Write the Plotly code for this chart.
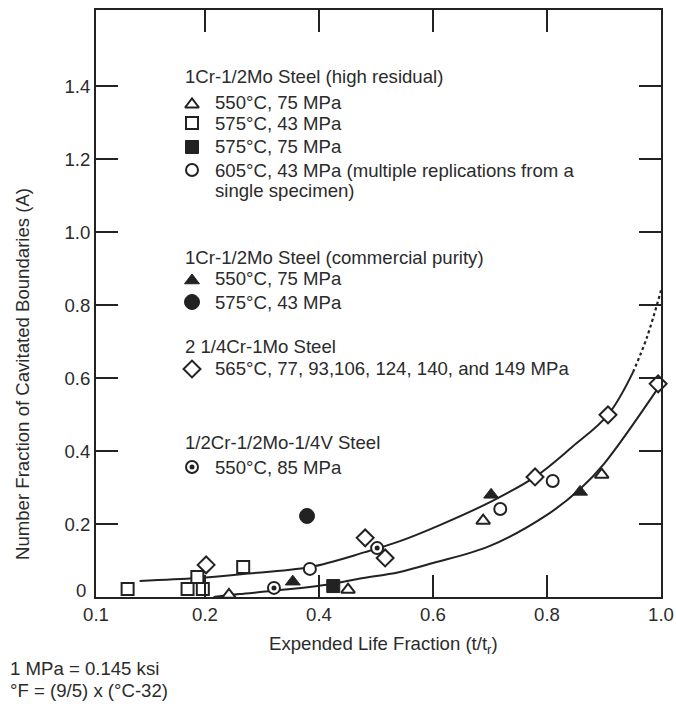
import plotly.graph_objects as go

# ---------------- data ----------------
# 1Cr-1/2Mo Steel (high residual)
tri_open_x = [0.242, 0.451, 0.688, 0.896]
tri_open_y = [0.006, 0.020, 0.209, 0.335]
sq_open_x = [0.129, 0.184, 0.193, 0.198, 0.267]
sq_open_y = [0.022, 0.022, 0.055, 0.022, 0.082]
sq_fill_x = [0.425]
sq_fill_y = [0.030]
circ_open_x = [0.384, 0.718, 0.810]
circ_open_y = [0.077, 0.241, 0.318]
# 1Cr-1/2Mo Steel (commercial purity)
tri_fill_x = [0.354, 0.702, 0.858]
tri_fill_y = [0.042, 0.280, 0.288]
circ_fill_x = [0.379]
circ_fill_y = [0.222]
# 2 1/4Cr-1Mo Steel
dia_x = [0.202, 0.481, 0.516, 0.779, 0.907, 0.995]
dia_y = [0.088, 0.162, 0.107, 0.329, 0.499, 0.584]
# 1/2Cr-1/2Mo-1/4V Steel
dot_x = [0.321, 0.502]
dot_y = [0.025, 0.134]

# trend curves
upper_x = [0.140, 0.193, 0.267, 0.384, 0.481, 0.542, 0.612, 0.700, 0.779, 0.844, 0.907, 0.951]
upper_y = [0.044, 0.052, 0.063, 0.082, 0.123, 0.153, 0.197, 0.260, 0.329, 0.411, 0.499, 0.616]
upper_ext_x = [0.951, 0.975, 1.000]
upper_ext_y = [0.616, 0.710, 0.840]
lower_x = [0.215, 0.260, 0.320, 0.420, 0.470, 0.540, 0.600, 0.700, 0.800, 0.858, 0.900, 0.996]
lower_y = [0.000, 0.008, 0.017, 0.035, 0.050, 0.068, 0.093, 0.140, 0.225, 0.296, 0.365, 0.575]

xtick_vals = [0.1, 0.2, 0.4, 0.6, 0.8, 1.0]
xtick_text = ["0.1", "0.2", "0.4", "0.6", "0.8", "1.0"]
ytick_vals = [0, 0.2, 0.4, 0.6, 0.8, 1.0, 1.2, 1.4]
ytick_text = ["0", "0.2", "0.4", "0.6", "0.8", "1.0", "1.2", "1.4"]

legend_groups = [
    ("1Cr-1/2Mo Steel (high residual)", [
        ("triangle-up", "white", 12, "550°C, 75 MPa"),
        ("square", "white", 12, "575°C, 43 MPa"),
        ("square", "#222", 13, "575°C, 75 MPa"),
        ("circle", "white", 12, "605°C, 43 MPa (multiple replications from a<br>single specimen)"),
    ]),
    ("1Cr-1/2Mo Steel (commercial purity)", [
        ("triangle-up", "#222", 13, "550°C, 75 MPa"),
        ("circle", "#222", 15, "575°C, 43 MPa"),
    ]),
    ("2 1/4Cr-1Mo Steel", [
        ("diamond", "white", 13, "565°C, 77, 93,106, 124, 140, and 149 MPa"),
    ]),
    ("1/2Cr-1/2Mo-1/4V Steel", [
        ("dotcircle", "white", 12, "550°C, 85 MPa"),
    ]),
]

# ---------------- layout constants (screen pixels) ----------------
W, H = 676, 708
PL, PR, PT, PB = 96, 661, 10, 597   # plot frame
INK = "#222222"
TXT = "#2b2b2b"
FONT = "Liberation Sans, Arial, Helvetica, sans-serif"
FS = 18.6

# x axis is stretched below 0.2 (0.1 sits at the left frame)
U_LEFT = 0.2 - (205 - PL) / 570.0
K = (0.2 - U_LEFT) / 0.1


def to_axis(x):
    return x if x >= 0.2 else 0.2 - (0.2 - x) * K


def ax(xs):
    return [to_axis(v) for v in xs]


def paper_x(px):
    return (px - PL) / (PR - PL)


def paper_y(py):
    return (PB - py) / (PB - PT)


fig = go.Figure()

fig.add_trace(go.Scatter(x=ax(upper_x), y=upper_y, mode="lines",
                         line=dict(color=INK, width=2, shape="spline")))
fig.add_trace(go.Scatter(x=ax(upper_ext_x), y=upper_ext_y, mode="lines",
                         line=dict(color=INK, width=2.2, dash="dot", shape="spline")))
fig.add_trace(go.Scatter(x=ax(lower_x), y=lower_y, mode="lines",
                         line=dict(color=INK, width=2, shape="spline")))


def pts(xs, ys, symbol, fill, size, lw=2):
    fig.add_trace(go.Scatter(
        x=ax(xs), y=ys, mode="markers", cliponaxis=False,
        marker=dict(symbol=symbol, size=size, color=fill,
                    line=dict(color=INK, width=lw))))


pts(sq_open_x, sq_open_y, "square", "white", 12)
pts(dia_x, dia_y, "diamond", "white", 13)
pts(circ_open_x, circ_open_y, "circle", "white", 12)
pts(dot_x, dot_y, "circle", "white", 12)
fig.add_trace(go.Scatter(x=ax(dot_x), y=dot_y, mode="markers", cliponaxis=False,
                         marker=dict(symbol="circle", size=5, color=INK, line=dict(width=0))))
pts(tri_open_x, tri_open_y, "triangle-up", "white", 12)
pts(tri_fill_x, tri_fill_y, "triangle-up", INK, 13, 1)
pts(sq_fill_x, sq_fill_y, "square", INK, 13, 1)
pts(circ_fill_x, circ_fill_y, "circle", INK, 15, 1)

# ---------------- legend block (markers on a pixel overlay axis) ----------------
annotations = []
header_y = [77, 257, 346, 442]
row_y = [[102, 123, 147, 170], [278, 302], [369], [467]]
HX, MX, TX = 183, 192, 213


def text_at(px, py, s, anchor="left", angle=0):
    annotations.append(dict(x=paper_x(px), y=paper_y(py), xref="paper", yref="paper",
                            text=s, showarrow=False, xanchor=anchor, yanchor="middle",
                            textangle=angle,
                            font=dict(size=FS, color=TXT, family=FONT)))


for gi, (title, items) in enumerate(legend_groups):
    text_at(HX, header_y[gi], title)
    for ii, (sym, fill, size, label) in enumerate(items):
        yy = row_y[gi][ii]
        if sym == "dotcircle":
            fig.add_trace(go.Scatter(x=[MX], y=[yy], xaxis="x2", yaxis="y2", mode="markers",
                                     marker=dict(symbol="circle", size=size, color="white",
                                                 line=dict(color=INK, width=2))))
            fig.add_trace(go.Scatter(x=[MX], y=[yy], xaxis="x2", yaxis="y2", mode="markers",
                                     marker=dict(symbol="circle", size=5, color=INK)))
        else:
            off = 2.5 if sym == "triangle-up" else 0
            fig.add_trace(go.Scatter(x=[MX], y=[yy + off], xaxis="x2", yaxis="y2", mode="markers",
                                     marker=dict(symbol=sym, size=size, color=fill,
                                                 line=dict(color=INK, width=2 if fill == "white" else 1))))
        lines = label.split("<br>")
        text_at(TX, yy, lines[0])
        if len(lines) > 1:
            text_at(TX, 190, lines[1])

# the "0" label on the y axis sits a little above the corner
text_at(88, 590, ytick_text[0], anchor="right")

# axis titles and notes
text_at(22, 374, "Number Fraction of Cavitated Boundaries (A)", anchor="center", angle=-90)
text_at(383, 645, "Expended Life Fraction (t/t<sub>r</sub>)", anchor="center")
text_at(8, 668, "1 MPa = 0.145 ksi")
text_at(8, 691, "°F = (9/5) x (°C-32)")

axis_common = dict(ticks="inside", ticklen=22, tickwidth=2, tickcolor=INK,
                   showline=True, linewidth=2, linecolor=INK, mirror="ticks",
                   showgrid=False, zeroline=False, ticklabeloverflow="allow",
                   automargin=False,
                   tickfont=dict(size=FS, color=TXT, family=FONT))

fig.update_layout(
    template="none",
    width=W, height=H, autosize=False,
    margin=dict(l=PL, r=W - PR, t=PT, b=H - PB, pad=0, autoexpand=False),
    paper_bgcolor="white", plot_bgcolor="white",
    showlegend=False,
    xaxis=dict(range=[U_LEFT, 1.0], tickvals=ax(xtick_vals), ticktext=xtick_text, **axis_common),
    yaxis=dict(range=[0, (PB - PT) / 365.0], tickvals=ytick_vals[1:],
               ticktext=ytick_text[1:], **axis_common),
    xaxis2=dict(overlaying="x", range=[PL, PR], visible=False),
    yaxis2=dict(overlaying="y", range=[PB, PT], visible=False),
    annotations=annotations,
    font=dict(family=FONT, color=TXT),
)

fig.write_html(
    "out.html",
    config={"displayModeBar": False, "responsive": False, "staticPlot": True},
    post_script="document.body.style.margin='0';document.body.style.overflow='hidden';",
)
